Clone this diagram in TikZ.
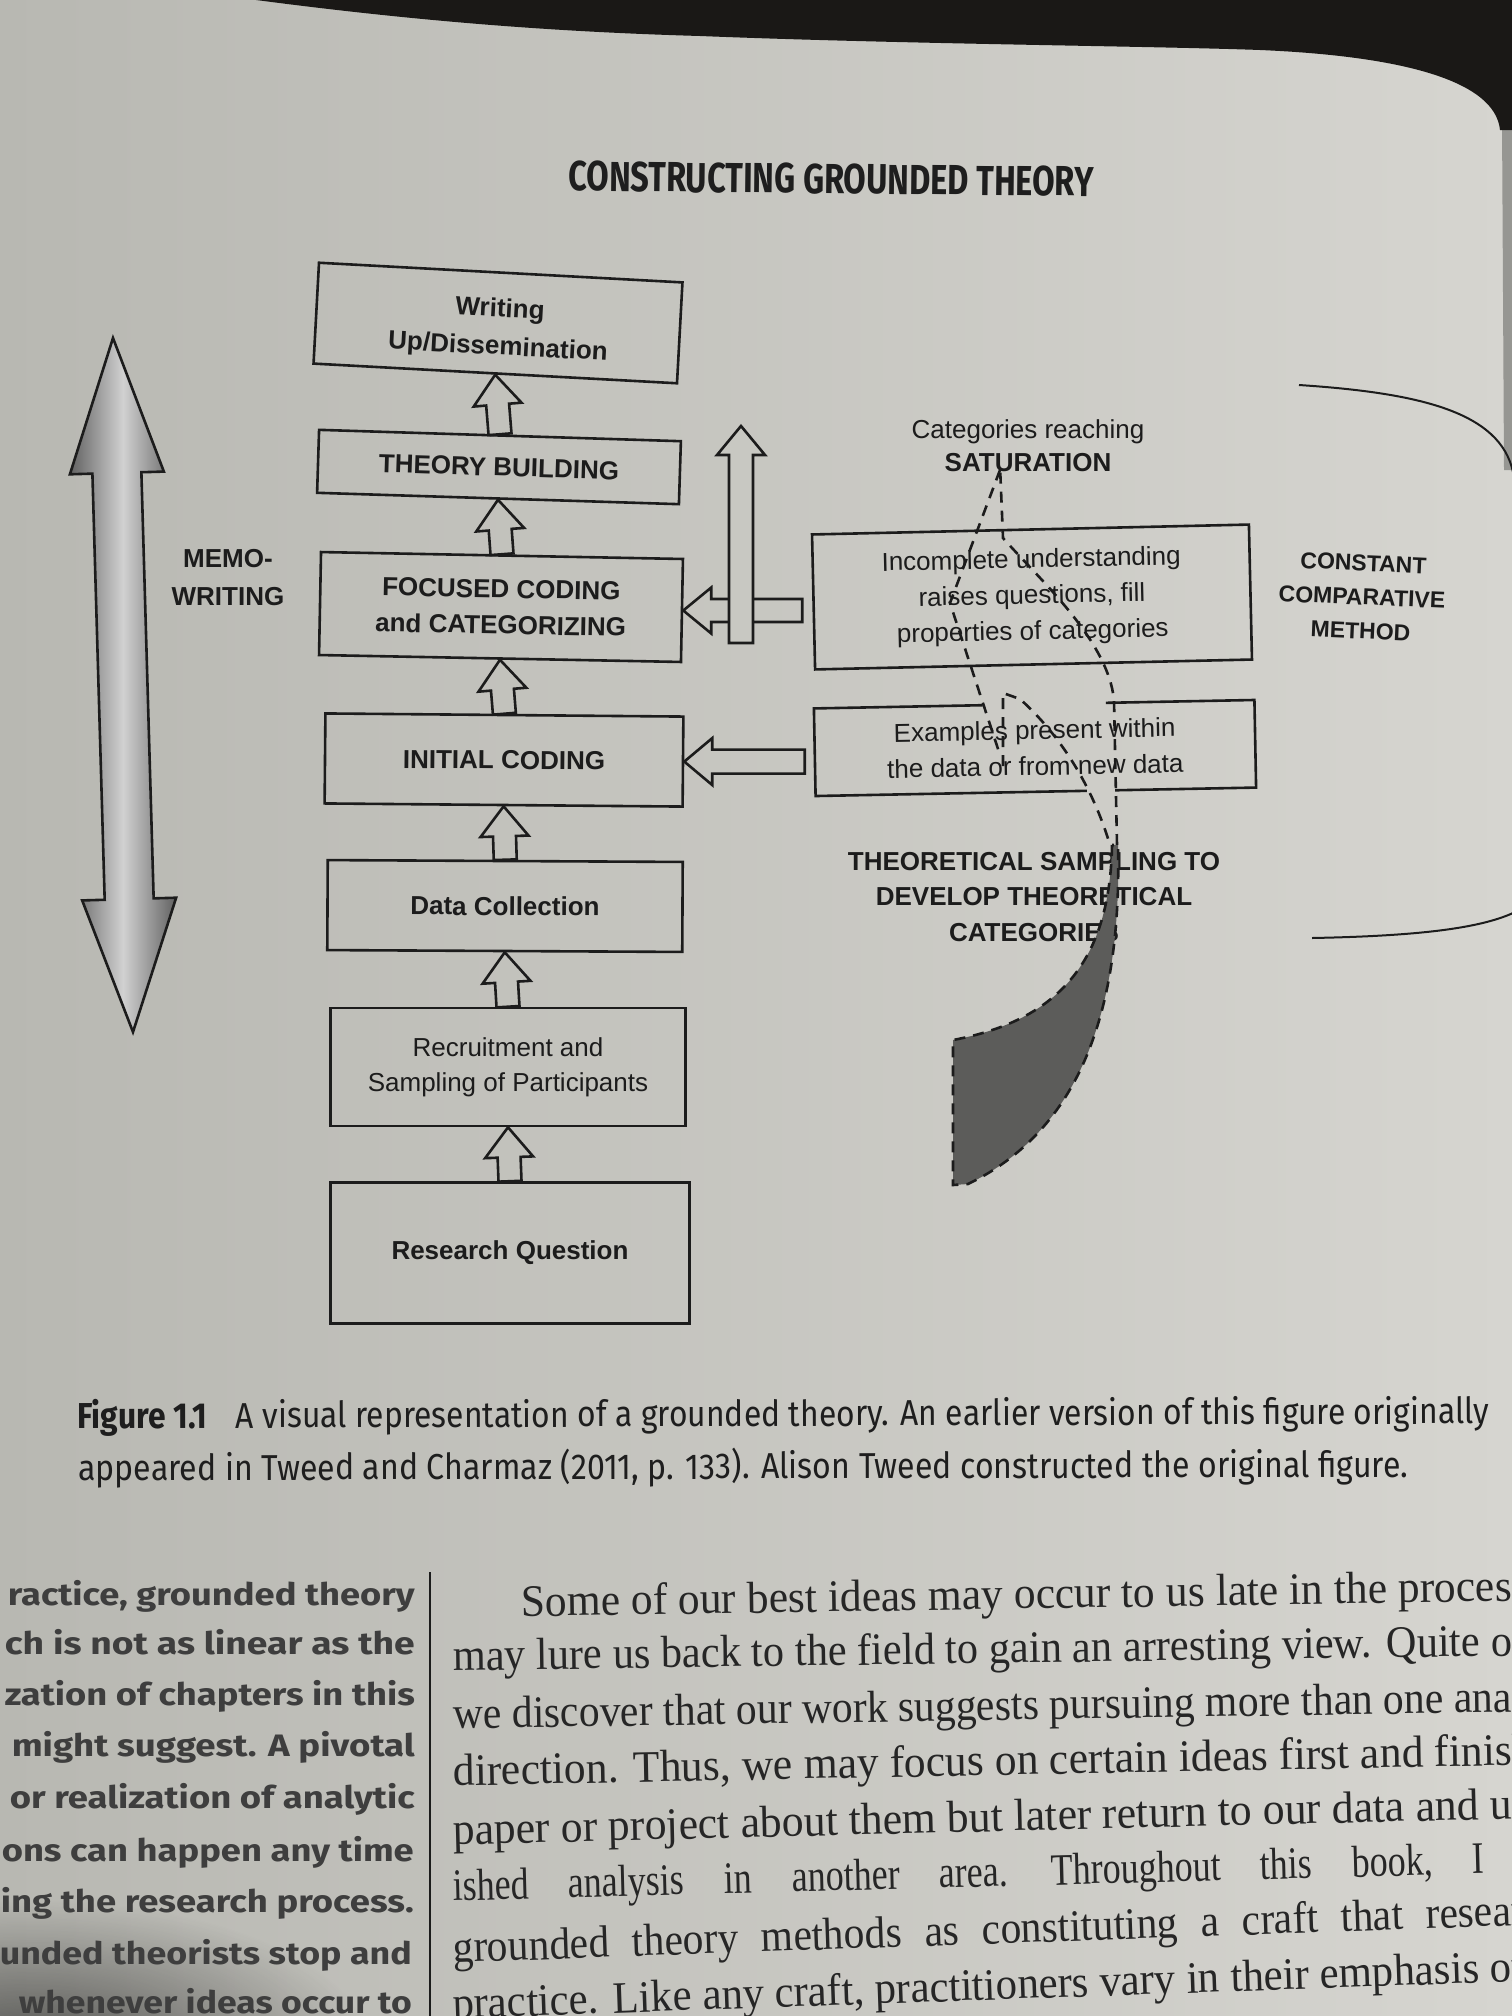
\documentclass[tikz,border=0pt]{standalone}
\usepackage{fontspec}
\setmainfont{Liberation Sans}
\newfontfamily\firaf{Fira Sans}
\newfontfamily\serf{Liberation Serif}
\usetikzlibrary{calc,fadings}
\tikzfading[name=shadowfade, inner color=transparent!0, outer color=transparent!100]
\definecolor{ink}{RGB}{28,28,28}
\definecolor{pagefill}{RGB}{200,200,194}
\definecolor{pageL}{RGB}{184,184,178}
\definecolor{pageR}{RGB}{214,213,208}
\definecolor{darkbg}{RGB}{26,24,22}
\definecolor{edgegray}{RGB}{150,150,146}
\definecolor{tailfill}{RGB}{92,92,90}
\definecolor{bodyink}{RGB}{38,38,38}
\definecolor{sideink}{RGB}{62,62,62}
\definecolor{capink}{RGB}{30,30,30}
% #1 options, #2 tail, #3 tip, #4 shaft half width, #5 head half width, #6 head length
\newcommand\blockarr[6][]{%
  \coordinate (hb) at ($(#3)!#6!(#2)$);
  \draw[arrline,#1] ($(#2)!#4!90:(#3)$) -- ($(hb)!#4!90:(#3)$) -- ($(hb)!#5!90:(#3)$) -- (#3)
     -- ($(hb)!#5!-90:(#3)$) -- ($(hb)!#4!-90:(#3)$) -- ($(#2)!#4!-90:(#3)$) -- cycle;}
\newcommand\fitw[2]{\resizebox{#1}{\height}{#2}}
\begin{document}
\begin{tikzpicture}[x=1pt,y=-1pt,
  box/.style={draw=ink, line width=2.6pt, inner sep=0pt, align=center, text=ink,
    font=\fontsize{26}{37}\selectfont\bfseries},
  rbox/.style={draw=ink, line width=2.6pt, inner sep=0pt, align=center, text=ink,
    font=\fontsize{26}{36}\selectfont},
  arrline/.style={draw=ink, line width=2.6pt, line join=miter},
  dashline/.style={draw=ink, line width=2.6pt, dash pattern=on 11pt off 8pt},
  lbl/.style={text=ink, align=center, inner sep=0pt, font=\fontsize{26}{37}\selectfont\bfseries},
  lcol/.style={anchor=mid east, inner sep=0pt, text=sideink, font=\firaf\bfseries\fontsize{31}{31}\selectfont},
  rcol/.style={anchor=mid west, inner sep=0pt, text=bodyink, font=\serf\fontsize{45}{45}\selectfont},
  capl/.style={anchor=mid west, inner sep=0pt, text=capink, font=\firaf\fontsize{36}{36}\selectfont},
]
\useasboundingbox (0,0) rectangle (1512,2016);
\clip (0,0) rectangle (1512,2016);
% page
\shade[left color=pageL, right color=pageR] (0,0) rectangle (1512,2016);
\fill[edgegray] (1502,120) -- (1514,120) -- (1514,470) -- (1504,470) -- cycle;
\fill[darkbg] (241,-2) .. controls (420,22) and (560,32) .. (700,36)
  .. controls (900,44) and (1150,46) .. (1260,50)
  .. controls (1400,56) and (1495,80) .. (1500,130) -- (1514,130) -- (1514,-2) -- cycle;
\fill[black, opacity=0.55, path fading=shadowfade] (30,2050) ellipse [x radius=340pt, y radius=150pt];

% header
\node[text=capink, inner sep=0pt, rotate=-0.6, font=\firaf\bfseries\fontsize{42}{42}\selectfont] (hdr) at (831,179)
  {\fitw{525pt}{CONSTRUCTING GROUNDED THEORY}};

% memo-writing double arrow
\coordinate (mwT) at (113,338);
\coordinate (mwB) at (133,1032);
\coordinate (mwA) at ($(mwT)!135pt!(mwB)$);
\coordinate (mwC) at ($(mwB)!133pt!(mwT)$);
\path[arrline, left color=black!62, right color=black!62, middle color=black!18]
  (mwT) -- ($(mwA)!47pt!90:(mwB)$) -- ($(mwA)!24.5pt!90:(mwB)$) -- ($(mwC)!24.5pt!90:(mwB)$)
  -- ($(mwC)!47pt!90:(mwB)$) -- (mwB) -- ($(mwC)!47pt!-90:(mwB)$) -- ($(mwC)!24.5pt!-90:(mwB)$)
  -- ($(mwA)!24.5pt!-90:(mwB)$) -- ($(mwA)!47pt!-90:(mwB)$) -- cycle;
\node[lbl, font=\fontsize{26}{38}\selectfont\bfseries] (memo) at (228,578) {MEMO-\\WRITING};

% left column of boxes
\node[box, rotate=-3.1, minimum width=364pt, minimum height=101pt] (wr) at (498,323) {};
\node[lbl, rotate=-3.1, font=\fontsize{26}{38}\selectfont\bfseries] (wrt) at ($(wr.center)+(1,6)$) {Writing\\Up/Dissemination};
\node[box, rotate=-1.8, minimum width=362pt, minimum height=63pt] (tb) at (499,467) {THEORY BUILDING};
\node[box, rotate=-1.1, minimum width=362pt, minimum height=103pt, font=\fontsize{26}{36}\selectfont\bfseries] (fc) at (501,607) {FOCUSED CODING\\and CATEGORIZING};
\node[box, rotate=-0.5, minimum width=358pt, minimum height=90pt] (ic) at (504,760) {INITIAL CODING};
\node[box, rotate=-0.3, minimum width=355pt, minimum height=90pt] (dc) at (505,906) {Data Collection};
\node[box, font=\fontsize{26}{35}\selectfont, minimum width=355pt, minimum height=118pt] (rs) at (508,1067) {Recruitment and\\Sampling of Participants};
\node[box, minimum width=359pt, minimum height=141pt] (rq) at (510,1253) {Research Question};

\blockarr{tb.north}{wr.south}{11.5pt}{24pt}{30pt}
\blockarr{fc.north}{tb.south}{11.5pt}{24pt}{30pt}
\blockarr{ic.north}{fc.south}{11.5pt}{24pt}{30pt}
\blockarr{dc.north}{ic.south}{11.5pt}{24pt}{30pt}
\blockarr{rs.north}{dc.south}{11.5pt}{24pt}{30pt}
\blockarr{rq.north}{rs.south}{11.5pt}{24pt}{30pt}

% right side
\node[lbl, font=\fontsize{26}{33}\selectfont] (sat) at (1028,446) {Categories reaching\\\textbf{SATURATION}};
\node[rbox, rotate=1.3, minimum width=437pt, minimum height=135pt] (inc) at (1032,597)
  {Incomplete understanding\\raises questions, fill\\properties of categories};
\node[rbox, draw=none, rotate=1.1, minimum width=438pt, minimum height=85pt] (exb) at (1035,748)
  {Examples present within\\the data or from new data};
\draw[arrline] ($(exb.north west)!0.383!(exb.north east)$) -- (exb.north west) -- (exb.south west)
  -- ($(exb.south west)!0.616!(exb.south east)$);
\draw[arrline] ($(exb.south west)!0.680!(exb.south east)$) -- (exb.south east) -- (exb.north east)
  -- ($(exb.north west)!0.663!(exb.north east)$);
\node[lbl, font=\fontsize{26}{35.5}\selectfont\bfseries] (tsa) at (1034,897)
  {THEORETICAL SAMPLING TO\\DEVELOP THEORETICAL\\CATEGORIES};
\node[lbl, font=\fontsize{23}{34}\selectfont\bfseries, rotate=-2.5] (ccm) at (1362,597)
  {CONSTANT\\COMPARATIVE\\METHOD};
\draw[ink, line width=2pt] (1299,385) .. controls (1420,393) and (1500,412) .. (1513,472);
\draw[ink, line width=2pt] (1312,938) .. controls (1420,936) and (1480,928) .. (1513,913);

% horizontal hollow arrows and vertical arrow
\coordinate (h1t) at ($(inc.west)+(-10,0)$);
\coordinate (h1) at (h1t |- fc.east);
\blockarr{h1}{fc.east}{11.5pt}{23pt}{28pt}
\coordinate (h2t) at ($(exb.west)+(-10,0)$);
\coordinate (h2) at (h2t |- ic.east);
\blockarr{h2}{ic.east}{12pt}{23.5pt}{28pt}
\coordinate (vaT) at (741,426);
\coordinate (vaB) at (741,643);
\blockarr[fill=pagefill]{vaB}{vaT}{12pt}{24pt}{29pt}

% dashed loop
\draw[dashline] (1117,845) -- (1114,700) .. controls (1108,640) and (1040,580) .. (1003,538) -- (1000,466);
\draw[dashline] (1000,470) -- (950,603) -- (1000,755);
\draw[dashline] (1003,766) -- (1003,693) -- (1020,699) .. controls (1060,735) and (1092,785) .. (1110,845);
\filldraw[dashline, fill=tailfill] (1112,845) .. controls (1110,960) and (1060,1020) .. (953,1040)
  -- (953,1185) -- (968,1184) .. controls (1080,1130) and (1122,1010) .. (1118,845) -- cycle;

% caption
\node[capl, rotate=0.2] (cap1) at (77,1426) {\fitw{1412pt}{\textbf{Figure 1.1}\hspace{0.9em}A visual representation of a grounded theory. An earlier version of this figure originally}};
\node[capl, rotate=0.15] (cap2) at (78,1478) {\fitw{1330pt}{appeared in Tweed and Charmaz (2011, p. 133). Alison Tweed constructed the original figure.}};

% column rule
\draw[ink, line width=2.5pt] (430,1572) -- (430,2020);

% left column
\node[lcol] (l1) at (415,1603) {\fitw{407pt}{ractice, grounded theory}};
\node[lcol] (l2) at (415,1652) {\fitw{410pt}{ch is not as linear as the}};
\node[lcol] (l3) at (415,1703) {\fitw{410pt}{zation of chapters in this}};
\node[lcol] (l4) at (415,1754) {\fitw{403pt}{might suggest. A pivotal}};
\node[lcol] (l5) at (415,1806) {\fitw{405pt}{or realization of analytic}};
\node[lcol] (l6) at (414,1859) {\fitw{412pt}{ons can happen any time}};
\node[lcol] (l7) at (414,1910) {\fitw{413pt}{ing the research process.}};
\node[lcol] (l8) at (412,1962) {\fitw{412pt}{unded theorists stop and}};
\node[lcol] (l9) at (412,2011) {\fitw{393pt}{whenever ideas occur to}};

% right column
\node[rcol, rotate=0.9] (r1) at (521,1614) {\fitw{991pt}{Some of our best ideas may occur to us late in the proces\rlap{s}}};
\node[rcol, rotate=0.8] (r2) at (453,1668) {\fitw{1059pt}{may lure us back to the field to gain an arresting view. Quite o\rlap{ften}}};
\node[rcol, rotate=0.9] (r3) at (453,1726) {\fitw{1059pt}{we discover that our work suggests pursuing more than one ana\rlap{lytic}}};
\node[rcol, rotate=1.1] (r4) at (453,1783) {\fitw{1059pt}{direction. Thus, we may focus on certain ideas first and finis\rlap{h}}};
\node[rcol, rotate=1.4] (r5) at (453,1842) {\fitw{1059pt}{paper or project about them but later return to our data and u\rlap{nfin-}}};
\node[rcol, rotate=1.5] (r6) at (453,1898) {\fitw{1032pt}{\spaceskip=1.1em\relax ished analysis in another area. Throughout this book, I}};
\node[rcol, rotate=2.0] (r7) at (453,1960) {\fitw{1059pt}{\spaceskip=0.55em\relax grounded theory methods as constituting a craft that resea\rlap{rchers}}};
\node[rcol, rotate=2.0] (r8) at (453,2016) {\fitw{1059pt}{practice. Like any craft, practitioners vary in their emphasis o\rlap{n}}};
\end{tikzpicture}
\end{document}
